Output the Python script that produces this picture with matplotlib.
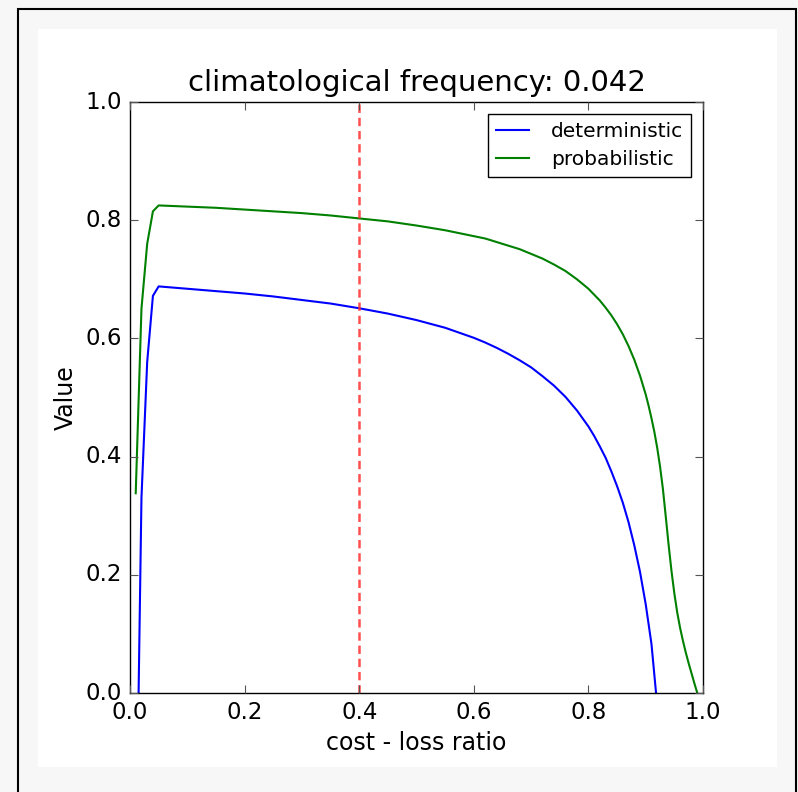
import matplotlib
matplotlib.use("Agg")
import matplotlib.pyplot as plt
from matplotlib.patches import Rectangle

# values
alpha_det = [0.015, 0.02, 0.03, 0.04, 0.05, 0.10, 0.15, 0.20, 0.25, 0.30, 0.35,
             0.40, 0.45, 0.50, 0.55, 0.60, 0.62, 0.64, 0.66, 0.68, 0.70, 0.72,
             0.74, 0.76, 0.78, 0.80, 0.81, 0.82, 0.83, 0.84, 0.85, 0.86, 0.87,
             0.88, 0.89, 0.90, 0.91, 0.918]
value_det = [0.0, 0.33, 0.56, 0.672, 0.688, 0.684, 0.680, 0.676, 0.671, 0.665, 0.659,
             0.651, 0.642, 0.631, 0.618, 0.601, 0.593, 0.584, 0.574, 0.563, 0.551, 0.536,
             0.520, 0.501, 0.478, 0.451, 0.435, 0.417, 0.398, 0.375, 0.350, 0.322, 0.289,
             0.250, 0.205, 0.150, 0.083, 0.0]

alpha_prob = [0.01, 0.02, 0.03, 0.04, 0.05, 0.10, 0.15, 0.20, 0.25, 0.30, 0.35,
              0.40, 0.45, 0.50, 0.55, 0.60, 0.62, 0.64, 0.66, 0.68, 0.70, 0.72,
              0.74, 0.76, 0.78, 0.80, 0.81, 0.82, 0.83, 0.84, 0.85, 0.86, 0.87,
              0.88, 0.89, 0.90, 0.905, 0.91, 0.915, 0.92, 0.925, 0.93, 0.935, 0.94,
              0.945, 0.95, 0.955, 0.96, 0.965, 0.97, 0.975, 0.98, 0.985, 0.99]
value_prob = [0.338, 0.65, 0.76, 0.815, 0.825, 0.823, 0.821, 0.818, 0.815, 0.812, 0.808,
              0.803, 0.798, 0.791, 0.783, 0.773, 0.769, 0.763, 0.757, 0.751, 0.743, 0.735,
              0.725, 0.714, 0.700, 0.684, 0.674, 0.664, 0.652, 0.639, 0.624, 0.607, 0.587,
              0.564, 0.537, 0.505, 0.486, 0.465, 0.442, 0.415, 0.383, 0.345, 0.298, 0.250,
              0.206, 0.168, 0.136, 0.110, 0.088, 0.068, 0.050, 0.033, 0.016, 0.0]

clim_freq = 0.042
cost_loss_mark = 0.4

plt.style.use('classic')
plt.rcParams['font.family'] = 'DejaVu Sans'

fig = plt.figure(figsize=(7.98, 7.92), dpi=100, facecolor='#f7f7f7')

# white page and black frame behind the plot
fig.patches.append(Rectangle((0.0476, 0.0316), 0.9261, 0.9318, transform=fig.transFigure,
                             facecolor='white', edgecolor='none', zorder=-2))
fig.patches.append(Rectangle((0.0226, -0.02), 0.9749, 1.0086, transform=fig.transFigure,
                             facecolor='none', edgecolor='black', lw=1.5, zorder=-1))

ax = fig.add_axes([0.1629, 0.125, 0.7181, 0.7462])
ax.set_facecolor('white')

ax.plot(alpha_det, value_det, color='#0000ff', lw=1.5, label='deterministic')
ax.plot(alpha_prob, value_prob, color='#008000', lw=1.5, label='probabilistic')
ax.axvline(cost_loss_mark, color='#ff3030', ls='--', lw=1.8, alpha=0.85, dashes=(6, 3.5))

ax.set_xlim(0, 1)
ax.set_ylim(0, 1)
ax.set_xticks([0.0, 0.2, 0.4, 0.6, 0.8, 1.0])
ax.set_yticks([0.0, 0.2, 0.4, 0.6, 0.8, 1.0])
ax.tick_params(labelsize=16.5, direction='in', length=6, width=0.8, color='#555555',
               top=True, right=True, pad=6)

ax.set_xlabel('cost - loss ratio', fontsize=17)
ax.set_ylabel('Value', fontsize=17)
ax.set_title('climatological frequency: %.3f' % clim_freq, fontsize=21, pad=8)

leg = ax.legend(loc='upper right', fontsize=14.5, fancybox=False, numpoints=1,
                handlelength=1.6, handletextpad=1.1, labelspacing=0.45,
                borderaxespad=0.6)
leg.get_frame().set_edgecolor('black')

fig.savefig('out.png', dpi=100, facecolor=fig.get_facecolor())
